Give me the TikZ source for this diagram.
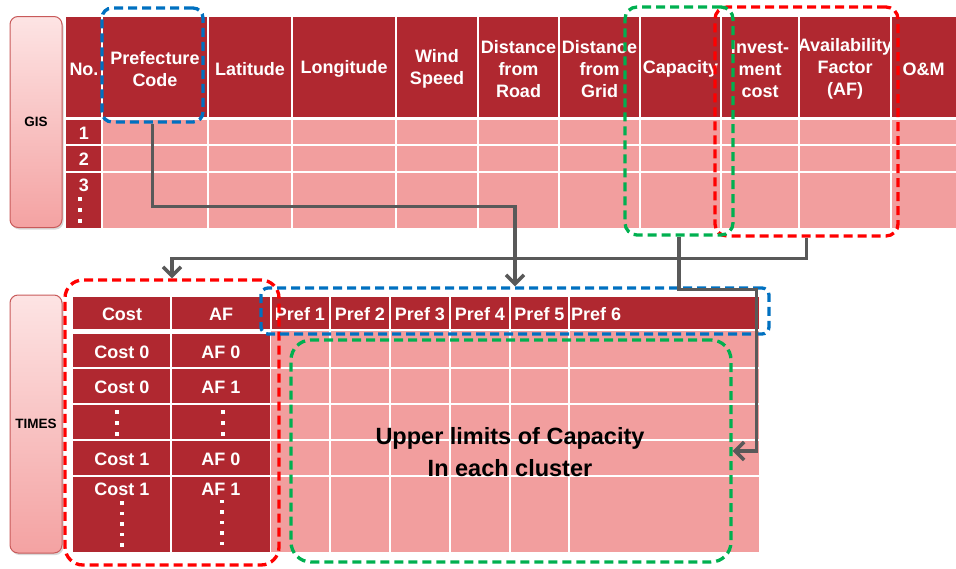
\documentclass[tikz,border=0pt]{standalone}
\usepackage{fontspec}
\setmainfont{Liberation Sans}
\usetikzlibrary{arrows.meta,calc,shadows}
\definecolor{dred}{RGB}{176,40,48}
\definecolor{pinkc}{RGB}{242,158,158}
\definecolor{gconn}{RGB}{89,89,89}
\definecolor{bluedash}{RGB}{0,112,192}
\definecolor{greendash}{RGB}{0,176,80}
\definecolor{reddash}{RGB}{255,0,0}
\definecolor{lblborder}{RGB}{200,90,90}
\definecolor{lbltop}{RGB}{253,228,228}
\definecolor{lblbot}{RGB}{244,162,162}
\begin{document}
\begin{tikzpicture}[x=1pt,y=-1pt,
  hd/.style={font=\fontsize{18}{22}\selectfont\bfseries, text=white, align=center, inner sep=0pt},
  grid/.style={white, line width=1.5pt},
  lbl/.style={draw=lblborder, line width=1pt, rounded corners=8pt, top color=lbltop, bottom color=lblbot,
     font=\fontsize{13.5}{16}\selectfont\bfseries, text=black, inner sep=0pt,
     drop shadow={shadow xshift=1.5pt, shadow yshift=-2pt, opacity=0.3}},
  dbox/.style={draw=#1, line width=3.3pt, dash pattern=on 9pt off 5pt, inner sep=0pt},
  conn/.style={draw=gconn, line width=3.5pt},
  tip/.style={-{Straight Barb[length=9pt,width=18pt]}},
  dot/.style={white}
]
\useasboundingbox (0,0) rectangle (956,568);

% ---------------- GIS table ----------------
\node[lbl, minimum width=52pt, minimum height=211pt] (gis) at (36,122) {GIS};
\fill[dred] (66,17) rectangle (956,117);
\foreach \x in {102,208,292,396,478,559,640,721,799,891} \draw[grid] (\x,17) -- (\x,117);
\fill[dred] (66,120) rectangle (102,228);
\fill[pinkc] (102,120) rectangle (956,228);
\foreach \x in {102,208,292,396,478,559,640,721,799,891} \draw[grid] (\x,120) -- (\x,228);
\foreach \y in {145,172} \draw[grid] (66,\y) -- (956,\y);

\node[hd] (hno)   at (84,69)  {No.};
\node[hd] (hpref) at (155,69) {Prefecture\\Code};
\node[hd] (hlat)  at (250,69) {Latitude};
\node[hd] (hlon)  at (344,69) {Longitude};
\node[hd] (hwind) at (437,69) {Wind\\Speed};
\node[hd] (hroad) at (518.5,69) {Distance\\from\\Road};
\node[hd] (hgrid) at (599.5,69) {Distance\\from\\Grid};
\node[hd] (hcap)  at (680.5,69) {Capacity};
\node[hd] (hinv)  at (760,69) {Invest-\\ment\\cost};
\node[hd] (haf)   at (845,69) {Availability\\Factor\\(AF)};
\node[hd] (hom)   at (923.5,69) {O\&M};

\node[hd] (r1) at (84,133) {1};
\node[hd] (r2) at (84,159) {2};
\node[hd] (r3) at (84,185) {3};
\foreach \y in {199,210,221} \fill[dot] (78.2,\y-1.8) rectangle (81.8,\y+1.8);

% ---------------- TIMES tables ----------------
\node[lbl, minimum width=52pt, minimum height=258pt] (times) at (36,424) {TIMES};

\fill[dred] (73,297) rectangle (270,329);
\draw[grid] (171,297) -- (171,329);
\fill[dred] (73,334) rectangle (270,552);
\draw[grid] (171,334) -- (171,552);
\foreach \y in {368,404,440,476} \draw[grid] (73,\y) -- (270,\y);

\node[hd] (tcost) at (122,314) {Cost};
\node[hd] (taf)   at (221,314) {AF};
\node[hd] (c1) at (122,352) {Cost 0};
\node[hd] (a1) at (221,352) {AF 0};
\node[hd] (c2) at (122,387) {Cost 0};
\node[hd] (a2) at (221,387) {AF 1};
\node[hd] (c4) at (122,459) {Cost 1};
\node[hd] (a4) at (221,459) {AF 0};
\node[hd] (c5) at (122,489) {Cost 1};
\node[hd] (a5) at (221,489) {AF 1};
\foreach \y in {412,423,434} {
  \fill[dot] (115.2,\y-1.8) rectangle (118.8,\y+1.8);
  \fill[dot] (221.2,\y-1.8) rectangle (224.8,\y+1.8);
}
\foreach \y in {503,513.5,524,534.5,545} {
  \fill[dot] (120.2,\y-1.8) rectangle (123.8,\y+1.8);
  \fill[dot] (220.2,\y-3.3) rectangle (223.8,\y+0.3);
}

\fill[dred] (271,297) rectangle (759,329);
\fill[pinkc] (271,331) rectangle (759,552);
\foreach \x in {271,330,390,450,510,569} \draw[grid] (\x,297) -- (\x,329);
\foreach \x in {330,390,450,510,569} \draw[grid] (\x,331) -- (\x,552);
\foreach \y in {368,404,440,476} \draw[grid] (271,\y) -- (759,\y);

\node[hd] (p1) at (300,314) {Pref 1};
\node[hd] (p2) at (360,314) {Pref 2};
\node[hd] (p3) at (420,314) {Pref 3};
\node[hd] (p4) at (480,314) {Pref 4};
\node[hd] (p5) at (539.5,314) {Pref 5};
\node[hd, anchor=west] (p6) at (571,314) {Pref 6};

\node[font=\fontsize{23.5}{32}\selectfont\bfseries, align=center, anchor=base, inner sep=0pt] (upper) at (510,476)
  {Upper limits of Capacity\\In each cluster};

% ---------------- dashed highlight boxes ----------------
\node[dbox=bluedash, rounded corners=10pt, minimum width=101pt, minimum height=114pt] (gbb) at (152.5,65) {};
\node[dbox=reddash, rounded corners=12pt, minimum width=183pt, minimum height=229pt] (grb) at (806.5,121.5) {};
\node[dbox=greendash, rounded corners=12pt, minimum width=108pt, minimum height=228pt] (ggb) at (679,121) {};

\node[dbox=reddash, rounded corners=18pt, minimum width=214pt, minimum height=285pt] (trb) at (172,422.5) {};
\node[dbox=bluedash, rounded corners=7pt, minimum width=508pt, minimum height=46pt] (tbb) at (515,311) {};
\node[dbox=greendash, rounded corners=20pt, minimum width=440pt, minimum height=222pt] (tgb) at (511,451) {};

% ---------------- connectors ----------------
\draw[conn, tip] (gbb.south) -- ++(0,83) -| (tbb.north);
\draw[conn, tip] (grb.south) -- ++(0,21) -| (trb.north);
\draw[conn, tip] (ggb.south) -- ++(0,53) -| ($(tgb.east)+(24,0)$) -- (tgb.east);

\end{tikzpicture}
\end{document}
